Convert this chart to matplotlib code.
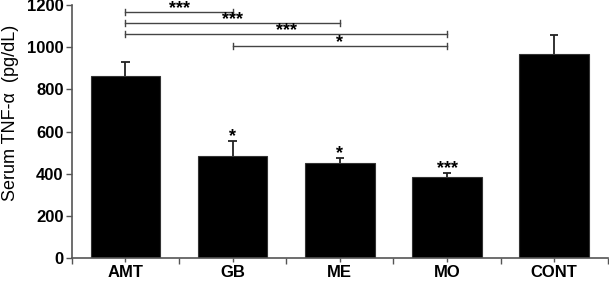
import numpy as np
import matplotlib.pyplot as plt

plt.rcParams['font.family'] = ['Liberation Sans', 'DejaVu Sans']

# data
groups = ['AMT', 'GB', 'ME', 'MO', 'CONT']
means = [863, 483, 450, 384, 967]
errs = [67, 72, 24, 19, 90]
bar_stars = ['', '*', '*', '***', '']

# significance brackets: (from, to, y, label)
brackets = [(0, 1, 1166, '***'),
            (0, 2, 1114, '***'),
            (0, 3, 1062, '***'),
            (1, 3, 1005, '*')]

fig = plt.figure(figsize=(6.09, 2.81), dpi=100)
ax = fig.add_axes([0.118, 0.082, 0.88, 0.9])

x = np.arange(len(groups))
means = np.array(means)
errs = np.array(errs)
ax.bar(x, means, width=0.65, color='black', edgecolor='#333333', linewidth=0.8, zorder=2)
# upper-only error bars
ax.vlines(x, means, means + errs, color='#222222', lw=1.3, zorder=1)
ax.hlines(means + errs, x - 0.04, x + 0.04, color='#222222', lw=1.3, zorder=1)

for xi, m, e, s in zip(x, means, errs, bar_stars):
    if s:
        ax.text(xi, m + e - 20, s, ha='center', va='bottom', fontsize=13, fontweight='bold')

for a, b, y, s in brackets:
    ax.plot([a, b], [y, y], color='#444444', lw=1.0, clip_on=False)
    for end in (a, b):
        ax.plot([end, end], [y - 14, y + 14], color='#444444', lw=1.0, clip_on=False)
    ax.text((a + b) / 2, y - 24, s, ha='center', va='bottom', fontsize=13, fontweight='bold',
            clip_on=False)

ax.set_xlim(-0.5, 4.5)
ax.set_ylim(0, 1200)
ax.set_yticks(range(0, 1201, 200))
ax.set_xticks(x)
ax.set_xticklabels(groups)
ax.set_xticks(np.arange(-0.5, 4.6, 1), minor=True)
for lab in ax.get_xticklabels() + ax.get_yticklabels():
    lab.set_fontweight('bold')
    lab.set_fontsize(12)
ax.tick_params(axis='both', which='both', direction='out', length=4, color='#555555', width=1,
               pad=2)
ax.tick_params(axis='x', which='major', length=3)
ax.set_ylabel('Serum TNF-\u03b1  (pg/dL)', fontsize=13)
ax.yaxis.set_label_coords(-0.098, 0.575)

for side in ['top', 'right']:
    ax.spines[side].set_visible(False)
for side in ['left', 'bottom']:
    ax.spines[side].set_color('#555555')
    ax.spines[side].set_linewidth(1.2)

fig.savefig('out.png', dpi=100)
